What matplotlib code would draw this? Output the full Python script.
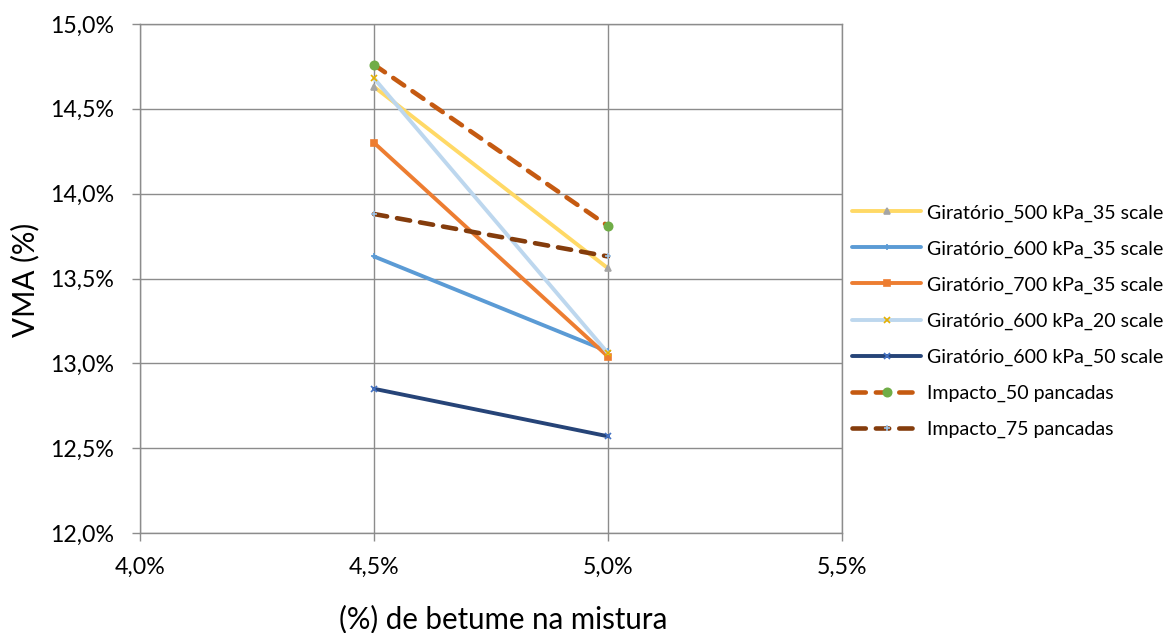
import matplotlib
matplotlib.use("Agg")
import matplotlib.pyplot as plt
from matplotlib.ticker import FuncFormatter, MultipleLocator

plt.rcParams['font.family'] = ['Lato', 'DejaVu Sans']

x_vals = [4.5, 5.0]
series_names = [
    "Giratório_500 kPa_35 scale",
    "Giratório_600 kPa_35 scale",
    "Giratório_700 kPa_35 scale",
    "Giratório_600 kPa_20 scale",
    "Giratório_600 kPa_50 scale",
    "Impacto_50 pancadas",
    "Impacto_75 pancadas",
]
series_values = [
    [14.63, 13.56],
    [13.63, 13.07],
    [14.30, 13.04],
    [14.68, 13.06],
    [12.85, 12.57],
    [14.76, 13.81],
    [13.88, 13.63],
]
line_colors = ["#FFD966", "#5B9BD5", "#ED7D31", "#BDD7EE", "#264478", "#C55A11", "#843C0C"]
marker_styles = ["^", "+", "s", "x", "x", "o", "+"]
marker_colors = ["#A5A5A5", "#5B9BD5", "#ED7D31", "#E6B000", "#4472C4", "#70AD47", "#9DC3E6"]
marker_sizes = [5, 5, 5, 5, 4, 6, 5]
dashed = [False, False, False, False, False, True, True]
x_title = "(%) de betume na mistura"
y_title = "VMA (%)"

W, H = 1168, 633
L, R, T, B = 140, 842, 24, 533
fig = plt.figure(figsize=(W/100, H/100), dpi=100)
ax = fig.add_axes([L/W, 1-B/H, (R-L)/W, (B-T)/H])
renderer = fig.canvas.get_renderer()


def fit_size(text, target_px, base=20):
    t = fig.text(0, 0, text, fontsize=base)
    w = t.get_window_extent(renderer).width
    t.remove()
    return base * target_px / w


for name, vals, lc, mk, mc, ms, dsh in zip(series_names, series_values, line_colors,
                                           marker_styles, marker_colors, marker_sizes, dashed):
    kw = dict(color=lc, lw=2.8, marker=mk, markersize=ms, markerfacecolor=mc,
              markeredgecolor=mc, markeredgewidth=1.2, label=name, solid_capstyle='round')
    if dsh:
        kw.update(lw=3.3, dashes=(2.9, 2.2), dash_capstyle='round')
    ax.plot(x_vals, vals, **kw)

ax.set_xlim(4.0, 5.5)
ax.set_ylim(12.0, 15.0)
ax.xaxis.set_major_locator(MultipleLocator(0.5))
ax.yaxis.set_major_locator(MultipleLocator(0.5))
fmt = FuncFormatter(lambda v, p: f"{v:.1f}%".replace('.', ','))
ax.xaxis.set_major_formatter(fmt)
ax.yaxis.set_major_formatter(fmt)
ax.grid(True, color="#8C8C8C", lw=1.0)
ax.set_axisbelow(True)
for s in ax.spines.values():
    s.set_color("#8C8C8C")
    s.set_linewidth(1.0)

tick_fs = fit_size("12,0%", 64)
ax.tick_params(axis='both', length=5.5, width=1.0, color="#8C8C8C", labelsize=tick_fs,
               direction='out', labelcolor='#000000')
ax.tick_params(axis='y', pad=13)
ax.tick_params(axis='x', pad=12)

title_fs = fit_size(x_title, 330)
fig.text(503/W, 1-619/H, x_title, fontsize=title_fs, ha='center', va='center')
fig.text(25/W, 1-280/H, y_title, rotation=90, fontsize=title_fs, ha='center', va='center')

leg_fs = fit_size(series_names[0], 236)
px_em = leg_fs * 100 / 72
leg = fig.legend(loc='center left', bbox_to_anchor=(852/W, 1-321/H), frameon=False,
                 fontsize=leg_fs, handlelength=69/px_em, handletextpad=6/px_em,
                 labelspacing=41.7/px_em - 1.17, borderaxespad=0, borderpad=0)

fig.savefig("out.png", dpi=100)
